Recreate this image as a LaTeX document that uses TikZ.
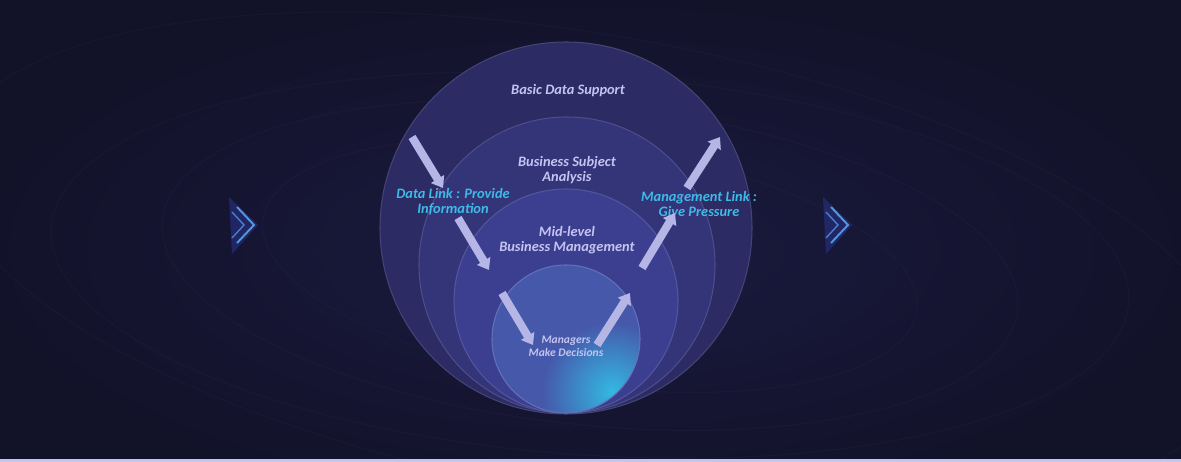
\documentclass[tikz,border=0pt]{standalone}
\usepackage{fontspec}
\setmainfont{Carlito}
\usetikzlibrary{arrows.meta,positioning}
\definecolor{bgdark}{HTML}{121229}
\definecolor{bgmid}{HTML}{1A1A40}
\definecolor{ringA}{HTML}{2C2B63}
\definecolor{ringB}{HTML}{343579}
\definecolor{ringC}{HTML}{3C3F90}
\definecolor{ringD}{HTML}{4658AA}
\definecolor{glow}{HTML}{33B9E2}
\definecolor{arrowlav}{HTML}{B6B6E6}
\definecolor{textlav}{HTML}{C4C4F2}
\definecolor{linkcyan}{HTML}{3FB9E6}
\definecolor{chevblue}{HTML}{2C3C9C}
\definecolor{chevline}{HTML}{5FA8F4}

\begin{document}
\begin{tikzpicture}[x=0.02cm, y=-0.02cm,
    disc/.style={fill=#1, draw=#1!88!white, line width=0.6pt},
    flow/.style={-{Triangle[length=6pt, width=8.5pt]}, line width=4.6pt, draw=arrowlav},
    layer/.style={font=\fontsize{8.2}{8.8}\selectfont\bfseries\itshape, text=textlav, align=center},
    link/.style={layer, text=linkcyan},
    orbit/.style={draw=white, opacity=0.022, line width=0.6pt}
]
\useasboundingbox (0,0) rectangle (1181,462);
% background
\fill[bgdark] (0,0) rectangle (1181,462);
\shade[inner color=bgmid, outer color=bgdark] (590,250) ellipse [x radius=620, y radius=260];
\foreach \rx/\ry/\ang in {330/120/-8, 430/160/-6, 540/190/-4, 650/230/-10}
  \draw[orbit, rotate around={\ang:(590,265)}] (590,265) ellipse [x radius=\rx, y radius=\ry];
\fill[arrowlav!80!white] (0,459) rectangle (1181,462);

% side chevrons
\foreach \cx in {229, 823} {
  \fill[chevblue, opacity=0.45] (\cx,197) -- ++(29,28) -- ++(-26,29) -- cycle;
  \draw[chevline, line width=1.1pt, opacity=0.85] (\cx+8,207) -- ++(17,18) -- ++(-17,18);
  \draw[chevline!60!chevblue, line width=0.8pt] (\cx+3,212) -- ++(12,13) -- ++(-12,13);
}

% nested layers
\fill[disc=ringA] (566,228) circle[radius=186];
\fill[disc=ringB] (567,265) circle[radius=148];
\fill[disc=ringC] (566,301) circle[radius=112];
\begin{scope}
  \clip (566,339) circle[radius=74];
  \fill[ringD] (566,339) circle[radius=74];
  \shade[inner color=glow, outer color=ringD] (612,392) circle[radius=70];
\end{scope}
\draw[ringD!85!white, line width=0.6pt] (566,339) circle[radius=74];

% labels
\node[layer] (basic) at (568,91) {Basic Data Support};
\node[layer] (subject) at (567,170) {Business Subject\\Analysis};
\node[layer] (midlevel) at (567,240) {Mid-level\\Business Management};
\node[layer, font=\fontsize{6.6}{7.5}\selectfont\bfseries\itshape] (managers) at (566,346) {Managers\\Make Decisions};
\node[link] (datalink) at (453,202) {Data Link : Provide\\Information};
\node[link] (mgmtlink) at (699,204) {Management Link :\\Give Pressure};

% arrow ends
\coordinate (d1s) at (412,137); \coordinate (d1e) at (443,188);
\coordinate (d2s) at (458,218); \coordinate (d2e) at (489,270);
\coordinate (d3s) at (502,293); \coordinate (d3e) at (533,345);
\coordinate (u1s) at (597,345); \coordinate (u1e) at (630,293);
\coordinate (u2s) at (642,268); \coordinate (u2e) at (675,213);
\coordinate (u3s) at (687,188); \coordinate (u3e) at (720,137);

\draw[flow] (d1s) -- (d1e);
\draw[flow] (d2s) -- (d2e);
\draw[flow] (d3s) -- (d3e);
\draw[flow] (u1s) -- (u1e);
\draw[flow] (u2s) -- (u2e);
\draw[flow] (u3s) -- (u3e);
\end{tikzpicture}
\end{document}
